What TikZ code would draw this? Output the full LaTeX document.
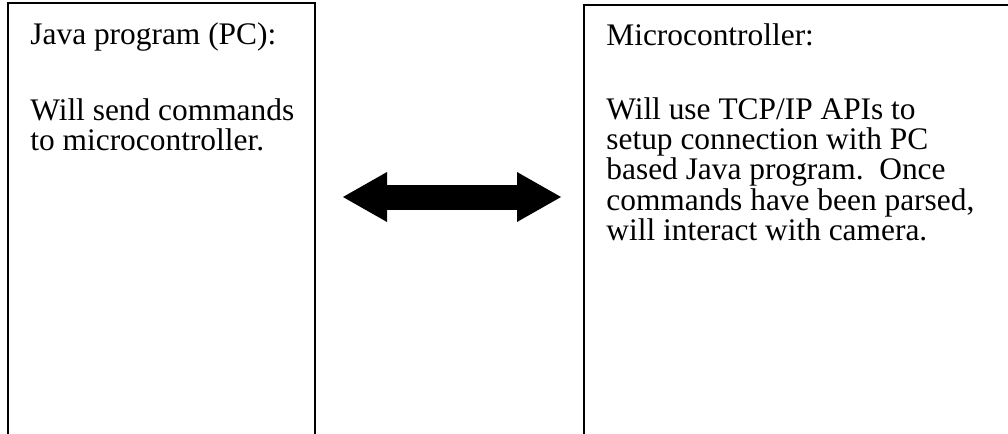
\documentclass[tikz,border=0pt]{standalone}
\usepackage{fontspec}
\setmainfont{Liberation Serif}
\usetikzlibrary{arrows.meta, positioning}

\begin{document}
\begin{tikzpicture}[x=0.5pt, y=-0.5pt,
  panel/.style={draw, line width=1.1pt, minimum width=153.5pt, minimum height=260pt,
    anchor=north west, inner sep=0pt, outer sep=0pt},
  txt/.style={anchor=base west, inner sep=0pt,
    font=\fontsize{15.7pt}{14.375pt}\selectfont},
  link/.style={line width=12.5pt,
    {Triangle[length=22pt, width=25pt, line width=0pt]}-{Triangle[length=22pt, width=25pt, line width=0pt]},
    shorten <=14pt, shorten >=11.5pt}]
  \useasboundingbox (0,0) rectangle (1008,434);
  \clip (0,0) rectangle (1008,434);
  % the two blocks
  \node[panel] (pc) at (8,3) {};
  \node[panel, minimum width=250pt] (mc) at (584,5) {};
  \node[txt] (pchead) at (30,44) {Java program (PC):};
  \node[txt] (pcbody) at (30,120) {\begin{tabular}[t]{@{}l@{}}Will send commands\\to microcontroller.\end{tabular}};
  \node[txt] (mchead) at (606,45) {Microcontroller:};
  \node[txt] (mcbody) at (606,119) {\begin{tabular}[t]{@{}l@{}}Will use TCP/IP APIs to\\setup connection with PC\\based Java program.\ \ Once\\commands have been parsed,\\will interact with camera.\end{tabular}};
  % link between them
  \coordinate (mid) at (0,197);
  \draw[link] (pc.east |- mid) -- (mc.west |- mid);
\end{tikzpicture}
\end{document}
